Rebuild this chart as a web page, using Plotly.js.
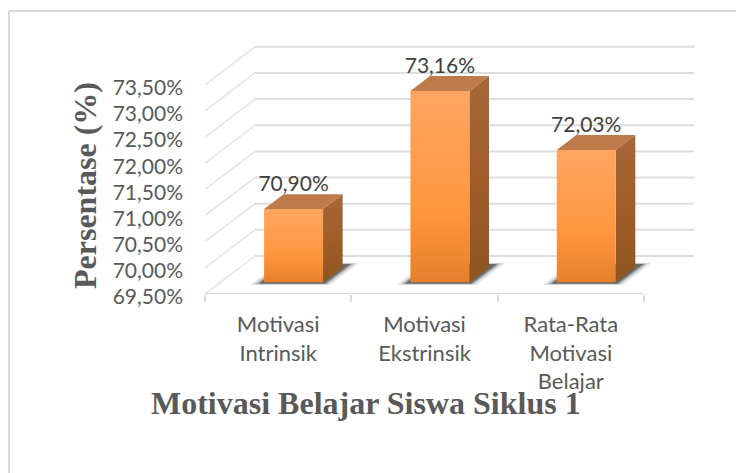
<!DOCTYPE html>
<html><head><meta charset="utf-8">
<script src="https://cdn.plot.ly/plotly-3.0.1.min.js"></script>
<style>html,body{margin:0;padding:0;background:#fff}#chart{width:736px;height:473px}</style>
</head><body><div id="chart"></div>
<script>
const categories = ["Motivasi<br>Intrinsik", "Motivasi<br>Ekstrinsik", "Rata-Rata<br>Motivasi<br>Belajar"];
const values = [70.90, 73.16, 72.03];
const yTicks = [69.5, 70, 70.5, 71, 71.5, 72, 72.5, 73, 73.5];
const categoryEdges = [0, 1, 2, 3];
const xTitle = "Motivasi Belajar Siswa Siklus 1";
const yTitle = "Persentase (%)";

const fmt = v => v.toFixed(2).replace(".", ",") + "%";
const FLOOR = yTicks[0];
const DEPTH_X = 0.3417, DEPTH_Y = 0.727;
const BAR_W = 0.403, BAR_D0 = 0.308, BAR_D1 = 0.70;
const px = (x, d) => x + d * DEPTH_X;
const py = (y, d) => y + d * DEPTH_Y;
const poly = (pts) => ({x: pts.map(p => px(p[0], p[2])), y: pts.map(p => py(p[1], p[2]))});
const base = {type: "scatter", mode: "lines", hoverinfo: "skip", showlegend: false, cliponaxis: false};

const traces = [];
// walls and floor gridlines
yTicks.forEach(v => {
  traces.push({...base, ...poly([[0, v, 0], [0, v, 1]]), line: {color: "#E4E4E4", width: 1.5}});
  traces.push({...base, ...poly([[0, v, 1], [3, v, 1]]), line: {color: "#DDDDDD", width: 2}});
});
// category axis line
traces.push({...base, x: [0, 3], y: [FLOOR, FLOOR], line: {color: "#D9D9D9", width: 2}});

values.forEach((v, i) => {
  const x0 = i + 0.5 - BAR_W / 2, x1 = i + 0.5 + BAR_W / 2;
  // soft floor shadow
  [[0.07, 0.03, "rgba(70,70,70,0.15)"], [0.045, 0.015, "rgba(60,60,60,0.30)"], [0.025, 0, "rgba(50,50,50,0.55)"]].forEach(s => {
    traces.push({...base, ...poly([[x0 - s[0], FLOOR, 0.27 - s[1]], [x1 + s[0], FLOOR, 0.27 - s[1]], [x1 + s[0], FLOOR, 0.79 + s[1]], [x0 - s[0], FLOOR, 0.79 + s[1]], [x0 - s[0], FLOOR, 0.27 - s[1]]]),
      fill: "toself", fillcolor: s[2], line: {width: 0}});
  });
  // side face
  traces.push({...base, ...poly([[x1, FLOOR, BAR_D0], [x1, FLOOR, BAR_D1], [x1, v, BAR_D1], [x1, v, BAR_D0], [x1, FLOOR, BAR_D0]]),
    fill: "toself", line: {width: 0}, fillcolor: "#A05F2C",
    fillgradient: {type: "vertical", colorscale: [[0, "#8E5520"], [0.5, "#A05E28"], [1, "#A5683A"]]}});
  // top face
  traces.push({...base, ...poly([[x0, v, BAR_D0], [x1, v, BAR_D0], [x1, v, BAR_D1], [x0, v, BAR_D1], [x0, v, BAR_D0]]),
    fill: "toself", line: {width: 0}, fillcolor: "#BE7A4A"});
  // front face
  traces.push({...base, ...poly([[x0, FLOOR, BAR_D0], [x1, FLOOR, BAR_D0], [x1, v, BAR_D0], [x0, v, BAR_D0], [x0, FLOOR, BAR_D0]]),
    fill: "toself", line: {width: 0}, fillcolor: "#FF963C",
    fillgradient: {type: "vertical", colorscale: [[0, "#E67F2C"], [0.35, "#FF963C"], [1, "#FFA562"]]}});
});
// data labels
traces.push({...base, mode: "text", x: values.map((v, i) => px(i + 0.5, BAR_D0)), y: values.map(v => py(v, BAR_D1) - 0.04),
  text: values.map(fmt), textposition: "top center", textfont: {family: "Lato, sans-serif", size: 21, color: "#404040"}});

const layout = {
  width: 736, height: 473,
  margin: {l: 205, r: 36, t: 40, b: 179, pad: 0},
  paper_bgcolor: "#fff", plot_bgcolor: "rgba(0,0,0,0)",
  showlegend: false,
  xaxis: {
    range: [0, 3.3827], zeroline: false, showgrid: false, showline: false,
    tickmode: "array", tickvals: categories.map((c, i) => i + 0.5), ticktext: categories,
    ticks: "", tickangle: 0, ticklabelstandoff: 15, tickfont: {family: "Lato, sans-serif", size: 22, color: "#595959"},
    minor: {tickmode: "array", tickvals: categoryEdges, ticks: "outside", ticklen: 7, tickwidth: 2, tickcolor: "#D9D9D9", showgrid: false}
  },
  yaxis: {
    range: [69.5, 74.357], zeroline: false, showgrid: false, showline: false,
    tickmode: "array", tickvals: yTicks, ticktext: yTicks.map(fmt), ticks: "", ticklabelstandoff: 21, ticklabelshift: 3,
    tickfont: {family: "Lato, sans-serif", size: 21, color: "#595959"}
  },
  annotations: [
    {text: xTitle, xref: "paper", yref: "paper", x: (366 - 205) / 495, y: (294 - 403) / 254, xanchor: "center", yanchor: "middle", showarrow: false,
      font: {family: "Liberation Serif, serif", size: 32, color: "#595959", weight: "bold"}},
    {text: yTitle, xref: "paper", yref: "paper", x: (85 - 205) / 495, y: (294 - 186) / 254, xanchor: "center", yanchor: "middle", showarrow: false, textangle: -90,
      font: {family: "Liberation Serif, serif", size: 32, color: "#595959", weight: "bold"}}
  ],
  shapes: [
    {type: "line", xref: "paper", yref: "paper", x0: (9 - 205) / 495, x1: (9 - 205) / 495, y0: -179 / 254, y1: (294 - 11) / 254, line: {color: "#D9D9D9", width: 2}},
    {type: "line", xref: "paper", yref: "paper", x0: (9 - 205) / 495, x1: (736 - 205) / 495, y0: (294 - 11) / 254, y1: (294 - 11) / 254, line: {color: "#D9D9D9", width: 2}}
  ]
};
Plotly.newPlot("chart", traces, layout, {displayModeBar: false, responsive: false});
</script></body></html>
